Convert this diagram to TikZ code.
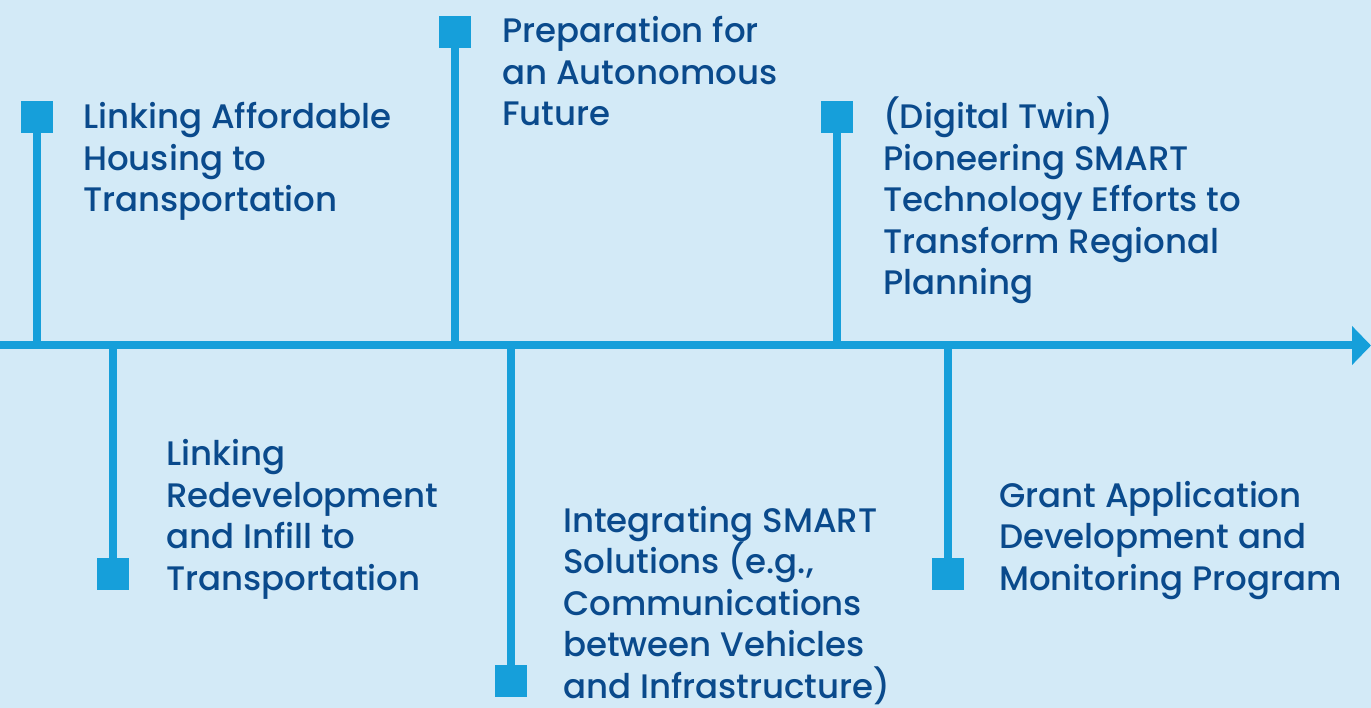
\documentclass[tikz,border=0pt]{standalone}
\usepackage{fontspec}
\setmainfont{Poppins}[UprightFont=* Medium]
\usetikzlibrary{arrows.meta}
\definecolor{bg}{HTML}{D3EAF7}
\definecolor{tl}{HTML}{169FDA}
\definecolor{tx}{HTML}{0A4A8C}
\tikzset{
  sq/.style={fill=tl, draw=none, minimum size=32pt, inner sep=0pt},
  stem/.style={draw=tl, line width=8pt},
  axisline/.style={draw=tl, line width=8pt, -{Triangle[length=19pt,width=38pt]}},
  lbl/.style={anchor=base west, inner sep=0pt, align=left, text=tx,
    font=\fontsize{34}{41.5}\selectfont}
}
\begin{document}
\begin{tikzpicture}[x=1pt,y=-1pt]
\fill[bg] (0,0) rectangle (1371,708);
\useasboundingbox (0,0) rectangle (1371,708);
\coordinate (L) at (0,345.5);
\coordinate (R) at (1371,345.5);
% markers
\node[sq] (s1) at (37,117) {};
\node[sq] (s2) at (113,574) {};
\node[sq] (s3) at (455,32) {};
\node[sq] (s4) at (511,681) {};
\node[sq] (s5) at (837,117) {};
\node[sq] (s6) at (948,574) {};
% stems
\foreach \s in {s1,s2,s3,s4,s5,s6} \draw[stem] (\s) -- (\s |- L);
% axis
\draw[axisline] (L) -- (R);
% labels (anchored at the baseline of the last line)
\node[lbl] (t1) at (83,212) {Linking Affordable\\Housing to\\Transportation};
\node[lbl] (t2) at (166,590) {Linking\\Redevelopment\\and Infill to\\Transportation};
\node[lbl] (t3) at (502,126) {Preparation for\\an Autonomous\\Future};
\node[lbl] (t4) at (563,698) {Integrating SMART\\Solutions (e.g.,\\Communications\\between Vehicles\\and Infrastructure)};
\node[lbl] (t5) at (883,295) {(Digital Twin)\\Pioneering SMART\\Technology Efforts to\\Transform Regional\\Planning};
\node[lbl] (t6) at (999,590) {Grant Application\\Development and\\Monitoring Program};
\end{tikzpicture}
\end{document}
